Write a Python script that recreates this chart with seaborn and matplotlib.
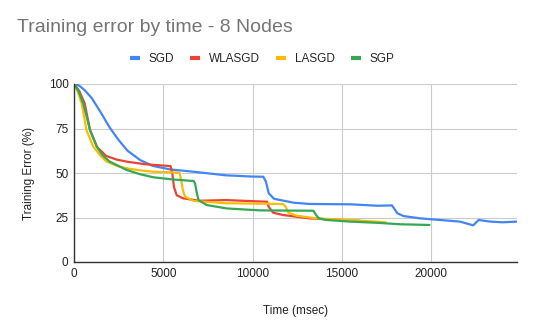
import matplotlib
matplotlib.use("Agg")
import matplotlib.pyplot as plt
import seaborn as sns
import pandas as pd
from matplotlib.lines import Line2D

series_names = ["SGD", "WLASGD", "LASGD", "SGP"]
colors = ["#4285F4", "#EA4335", "#FBBC04", "#34A853"]

sgd_x = [0, 300, 600, 1000, 1500, 2000, 2500, 3000, 3700, 4400, 5400, 6700, 8500, 10000,
         10600, 10750, 10900, 11200, 12300, 13200, 15500, 17000, 17800, 18100, 18450, 19400,
         20500, 21600, 22350, 22650, 23300, 24000, 24800]
sgd_y = [100, 99, 96.5, 92, 84, 75.5, 68.5, 62.5, 57.3, 54, 52, 50.7, 48.7, 48,
         47.9, 45, 38.6, 35.5, 33.3, 32.6, 32.4, 31.6, 31.8, 27.4, 25.8, 24.5,
         23.6, 22.7, 20.6, 23.6, 22.7, 22.3, 22.7]

wlasgd_x = [0, 300, 600, 900, 1300, 1800, 2400, 3000, 4000, 5400, 5500, 5600, 5750, 6100,
            7000, 8500, 10400, 10800, 10900, 11150, 11700, 13200, 14500, 16000]
wlasgd_y = [100, 96, 89, 74, 64.5, 59.6, 57.5, 56.3, 54.9, 53.9, 50, 42, 37.5, 35.8,
            34.4, 34.8, 34, 33.9, 31, 27.7, 26.4, 24.5, 23.8, 23.2]

lasgd_x = [0, 200, 430, 700, 1080, 1500, 1830, 2400, 2950, 3700, 4440, 5900, 6000, 6100,
           6220, 6700, 8550, 11700, 11850, 12000, 12470, 13600, 15460, 17450]
lasgd_y = [100, 96, 89, 74, 64.8, 59.5, 56.4, 54, 52.6, 51.5, 50.7, 50.2, 46, 40,
           36.7, 34.3, 33, 32.6, 31, 27.7, 26, 24.5, 23.6, 22.3]

sgp_x = [0, 250, 520, 900, 1270, 1600, 2000, 2950, 3700, 4440, 5500, 6700, 6780, 6870,
         6970, 7430, 8550, 10400, 13400, 13550, 13700, 14150, 15460, 17000, 18260, 19900]
sgp_y = [100, 96, 89, 74, 64.8, 60, 56.4, 51.7, 49.3, 47.6, 46.4, 45.5, 44, 39,
         34.8, 32, 30.1, 29, 28.8, 26.5, 24.5, 23.6, 22.7, 22, 21.2, 20.8]

x_ticks = [0, 5000, 10000, 15000, 20000]
y_ticks = [0, 25, 50, 75, 100]

frames = []
for name, xs, ys in zip(series_names,
                        [sgd_x, wlasgd_x, lasgd_x, sgp_x],
                        [sgd_y, wlasgd_y, lasgd_y, sgp_y]):
    frames.append(pd.DataFrame({"time": xs, "err": ys, "series": name}))
df = pd.concat(frames, ignore_index=True)

sns.set_style("white")
plt.rcParams["font.family"] = ["Liberation Sans", "DejaVu Sans"]

fig = plt.figure(figsize=(5.34, 3.31), dpi=100)
ax = fig.add_axes([74 / 534, 1 - 262 / 331, (517 - 74) / 534, (262 - 84) / 331])

sns.lineplot(data=df, x="time", y="err", hue="series", hue_order=series_names,
             palette=colors, sort=False, estimator=None, linewidth=1.6, ax=ax,
             legend=False)

ax.set_xlim(0, 24800)
ax.set_ylim(0, 100)
ax.set_xticks(x_ticks)
ax.set_yticks(y_ticks)
ax.set_xticklabels([str(t) for t in x_ticks])
ax.set_yticklabels([str(t) for t in y_ticks])
ax.grid(True, color="#cccccc", linewidth=0.8)
ax.set_axisbelow(True)
for s in ["top", "right"]:
    ax.spines[s].set_visible(False)
ax.spines["left"].set_color("#333333")
ax.spines["bottom"].set_color("#333333")
ax.spines["left"].set_linewidth(1.0)
ax.spines["bottom"].set_linewidth(1.0)
ax.tick_params(axis="both", length=0, labelsize=8.5, labelcolor="#222222", pad=4)
ax.set_xlabel("Time (msec)", fontsize=8.5, color="#222222", labelpad=18)
ax.set_ylabel("Training Error (%)", fontsize=8.5, color="#222222", labelpad=10)

fig.text(17 / 534, 1 - 28 / 331, "Training error by time - 8 Nodes", fontsize=14,
         color="#757575", va="center", ha="left")

handles = [Line2D([0], [0], color=c, linewidth=3, solid_capstyle="butt") for c in colors]
fig.legend(handles, series_names, loc="center", bbox_to_anchor=(262 / 534, 1 - 59 / 331),
           ncol=4, frameon=False, fontsize=8.5, handlelength=0.85, columnspacing=1.35,
           handletextpad=0.75)

fig.savefig("out.png", dpi=100)
